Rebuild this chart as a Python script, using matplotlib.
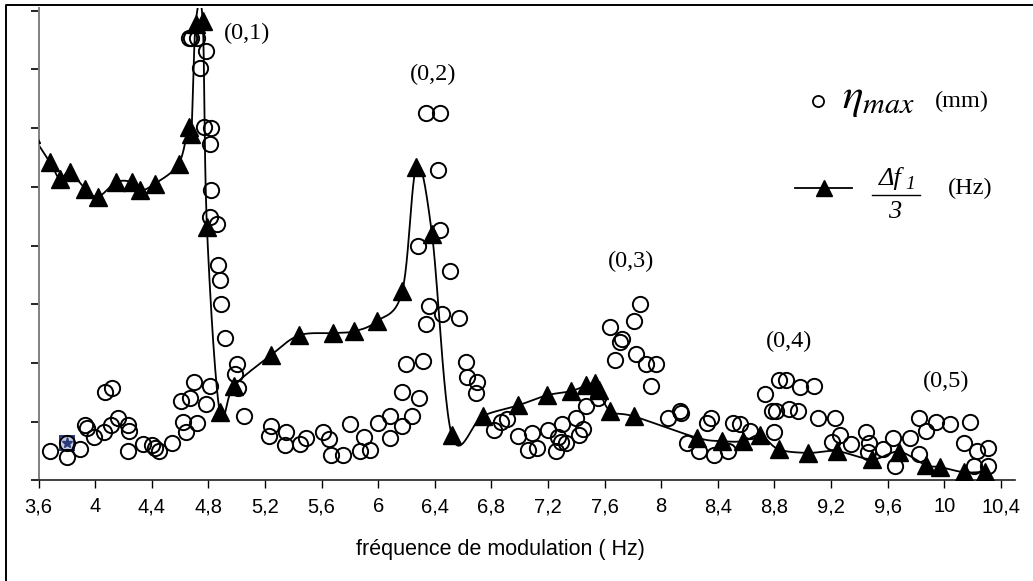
import matplotlib

matplotlib.use("Agg")
import matplotlib.pyplot as plt
import numpy as np

# eta_max (open circles), y in tick units (0..8)
eta_x = [3.68, 3.80, 3.80, 3.89, 3.93, 3.94, 3.99, 4.06, 4.07, 4.12,
         4.11, 4.16, 4.23, 4.24, 4.23, 4.34, 4.40, 4.42, 4.45, 4.54,
         4.62, 4.64, 4.61, 4.67, 4.70, 4.72, 4.78, 4.81, 4.66, 4.68,
         4.72, 4.78, 4.74, 4.77, 4.82, 4.81, 4.82, 4.81, 4.86, 4.87,
         4.88, 4.89, 4.92, 5.00, 4.99, 5.01, 5.05, 5.24, 5.23, 5.35,
         5.34, 5.45, 5.49, 5.61, 5.65, 5.67, 5.75, 5.80, 5.87, 5.90,
         5.94, 6.00, 6.08, 6.08, 6.17, 6.24, 6.17, 6.29, 6.20, 6.32,
         6.34, 6.44, 6.42, 6.44, 6.28, 6.51, 6.36, 6.34, 6.45, 6.57,
         6.62, 6.63, 6.70, 6.69, 6.82, 6.87, 6.91, 6.99, 7.06, 7.09,
         7.12, 7.20, 7.26, 7.27, 7.29, 7.33, 7.30, 7.40, 7.45, 7.42,
         7.47, 7.55, 7.64, 7.67, 7.71, 7.72, 7.81, 7.85, 7.82, 7.89,
         7.96, 7.93, 8.05, 8.13, 8.14, 8.18, 8.27, 8.32, 8.35, 8.37,
         8.47, 8.51, 8.56, 8.63, 8.73, 8.83, 8.88, 8.98, 9.08, 8.78,
         8.81, 8.90, 8.97, 9.11, 9.23, 8.80, 9.21, 9.26, 9.34, 9.45,
         9.47, 9.46, 9.57, 9.65, 9.64, 9.76, 9.82, 9.82, 9.87, 9.94,
         10.04, 10.18, 10.14, 10.23, 10.31, 10.21, 10.31]
eta_y = [0.51, 0.64, 0.40, 0.54, 0.95, 0.90, 0.74, 0.82, 1.50, 1.57,
         0.94, 1.07, 0.94, 0.84, 0.51, 0.62, 0.60, 0.56, 0.51, 0.64,
         0.99, 0.83, 1.36, 1.40, 1.68, 0.98, 1.30, 1.61, 7.53, 7.53,
         7.53, 7.31, 7.02, 6.02, 6.00, 5.73, 4.94, 4.49, 4.37, 3.67,
         3.42, 3.01, 2.43, 1.98, 1.82, 1.57, 1.10, 0.92, 0.76, 0.82,
         0.61, 0.62, 0.72, 0.82, 0.71, 0.44, 0.44, 0.96, 0.51, 0.74,
         0.52, 0.98, 1.10, 0.72, 0.93, 1.10, 1.50, 1.40, 1.98, 2.04,
         6.26, 6.26, 5.28, 4.26, 3.99, 3.57, 2.97, 2.67, 2.83, 2.77,
         2.02, 1.77, 1.68, 1.49, 0.86, 1.00, 1.05, 0.76, 0.52, 0.81,
         0.55, 0.86, 0.51, 0.74, 0.66, 0.63, 0.96, 1.07, 0.87, 0.78,
         1.27, 1.41, 2.62, 2.05, 2.35, 2.41, 2.72, 3.00, 2.15, 1.98,
         1.98, 1.61, 1.06, 1.18, 1.15, 0.63, 0.51, 0.98, 1.06, 0.43,
         0.51, 0.98, 0.97, 0.84, 1.48, 1.71, 1.71, 1.59, 1.61, 1.19,
         1.19, 1.21, 1.18, 1.07, 1.07, 0.83, 0.66, 0.77, 0.62, 0.83,
         0.63, 0.48, 0.54, 0.25, 0.73, 0.73, 0.45, 1.07, 0.85, 1.00,
         0.96, 0.99, 0.64, 0.51, 0.55, 0.25, 0.25]

# delta f1 / 3 (filled triangles); first point sits left of the axis
df_x = [3.55, 3.68, 3.75, 3.82, 3.93, 4.02, 4.15, 4.26, 4.32, 4.42,
        4.59, 4.66, 4.68, 4.71, 4.76, 4.79, 4.88, 4.98, 5.24, 5.44,
        5.68, 5.83, 5.99, 6.17, 6.27, 6.38, 6.52, 6.74, 6.99, 7.19,
        7.36, 7.47, 7.53, 7.56, 7.64, 7.81, 8.25, 8.43, 8.58, 8.70,
        8.83, 9.04, 9.24, 9.49, 9.68, 9.87, 9.97, 10.14, 10.29]
df_y = [5.90, 5.42, 5.14, 5.25, 4.97, 4.83, 5.08, 5.08, 4.94, 5.05,
        5.39, 6.02, 5.90, 7.78, 7.82, 4.31, 1.17, 1.61, 2.13, 2.47,
        2.51, 2.54, 2.71, 3.22, 5.34, 4.20, 0.77, 1.10, 1.28, 1.45,
        1.52, 1.62, 1.66, 1.54, 1.18, 1.09, 0.73, 0.67, 0.67, 0.77,
        0.53, 0.47, 0.50, 0.36, 0.49, 0.26, 0.23, 0.14, 0.15]

# selected point (blue square) in the reference
sel_x, sel_y = 3.80, 0.64

mode_labels = ["(0,1)", "(0,2)", "(0,3)", "(0,4)", "(0,5)"]
mode_x = [5.07, 6.39, 7.79, 8.90, 10.01]
mode_y = [7.61, 6.91, 3.73, 2.37, 1.69]

x_ticks = np.arange(3.6, 10.41, 0.4)
x_ticklabels = [f"{v:g}".replace(".", ",") for v in np.round(x_ticks, 1)]


def smooth(x, y, sx, sy, n=24):
    """Uniform Catmull-Rom through the points (Excel-like smoothed line)."""
    p = np.column_stack([np.asarray(x) * sx, np.asarray(y) * sy])
    p = np.vstack([p[0], p, p[-1]])
    t = np.linspace(0, 1, n, endpoint=False)[:, None]
    segs = []
    for i in range(1, len(p) - 2):
        p0, p1, p2, p3 = p[i - 1], p[i], p[i + 1], p[i + 2]
        segs.append(0.5 * (2 * p1 + (p2 - p0) * t
                           + (2 * p0 - 5 * p1 + 4 * p2 - p3) * t ** 2
                           + (3 * p1 - p0 - 3 * p2 + p3) * t ** 3))
    segs.append(p[-2][None])
    out = np.vstack(segs)
    return out[:, 0] / sx, out[:, 1] / sy


def ftext(px, py, s, **kw):
    # text placed in reference pixel units (origin top left)
    return fig.text(px / 1033, 1 - py / 581, s, **kw)


fig = plt.figure(figsize=(10.33, 5.81), dpi=100)
ax = fig.add_axes([0.0373, 0.1730, 0.9453, 0.8127])
ax.set_xlim(3.6, 10.5)
ax.set_ylim(0, 8.04)

sx_, sy_ = 141.5, 58.8
lx, ly = smooth(df_x, df_y, sx_, sy_)
ax.plot(lx, ly, color="black", lw=1.3, zorder=2)
ax.plot(df_x, df_y, ls="none", marker="^", ms=12.5, color="black", zorder=3)

ax.plot([sel_x], [sel_y], ls="none", marker="s", ms=10, mfc="#c8cce4",
        mec="#2b3a7a", mew=1.4, zorder=3)
ax.plot([sel_x], [sel_y], ls="none", marker="*", ms=8, color="#2b3a7a",
        zorder=3)
ax.plot(eta_x, eta_y, ls="none", marker="o", ms=11, mfc="none",
        mec="black", mew=1.4, zorder=4)

for lab, mx, my in zip(mode_labels, mode_x, mode_y):
    ax.text(mx, my, lab, ha="center", va="center", fontsize=17.5,
            family="Liberation Serif")

ax.spines["top"].set_visible(False)
ax.spines["right"].set_visible(False)
ax.spines["left"].set_color("#808080")
ax.spines["left"].set_linewidth(1.4)
ax.spines["bottom"].set_color("#202020")
ax.spines["bottom"].set_linewidth(1.2)
ax.set_yticks(np.arange(0, 9, 1))
ax.set_yticklabels([])
ax.tick_params(axis="y", direction="out", length=6, width=1.2, color="black")
ax.set_xticks(x_ticks)
ax.set_xticklabels(x_ticklabels, family="Liberation Sans", fontsize=14.5)
ax.tick_params(axis="x", direction="out", length=6, width=1.0, color="black",
               pad=6)

ftext(500, 549, "fréquence de modulation ( Hz)", ha="center", va="center",
      fontsize=15.5, family="Liberation Sans")

# legend, drawn by hand
fig.lines.append(plt.Line2D([818 / 1033], [1 - 101 / 581], marker="o", ms=8,
                            mfc="none", mec="black", mew=1.3,
                            transform=fig.transFigure))
ftext(842, 98, r"$\eta_{max}$", ha="left", va="center", fontsize=31,
      math_fontfamily="stix")
ftext(935, 101, "(mm)", ha="left", va="center", fontsize=17.5,
      family="Liberation Serif")
fig.lines.append(plt.Line2D([795 / 1033, 852 / 1033], [1 - 188 / 581] * 2,
                            color="black", lw=1.3, transform=fig.transFigure))
fig.lines.append(plt.Line2D([823.5 / 1033], [1 - 188 / 581], marker="^", ms=12,
                            color="black", transform=fig.transFigure))
ftext(890, 178, "Δf", ha="center", va="center", fontsize=19,
      family="Liberation Serif", style="italic")
ftext(910, 185, "1", ha="center", va="center", fontsize=14,
      family="Liberation Serif", style="italic")
fig.lines.append(plt.Line2D([872 / 1033, 920 / 1033], [1 - 195 / 581] * 2,
                            color="black", lw=1.0, transform=fig.transFigure))
ftext(895, 212, "3", ha="center", va="center", fontsize=19,
      family="Liberation Serif", style="italic")
ftext(948, 188, "(Hz)", ha="left", va="center", fontsize=17.5,
      family="Liberation Serif")

# outer frame (top and left edges visible)
fig.lines.append(plt.Line2D([6 / 1033, 6 / 1033, 1.0],
                            [0.0, 1 - 5 / 581, 1 - 5 / 581],
                            color="black", lw=1.4, transform=fig.transFigure))

fig.savefig("out.png", dpi=100)
